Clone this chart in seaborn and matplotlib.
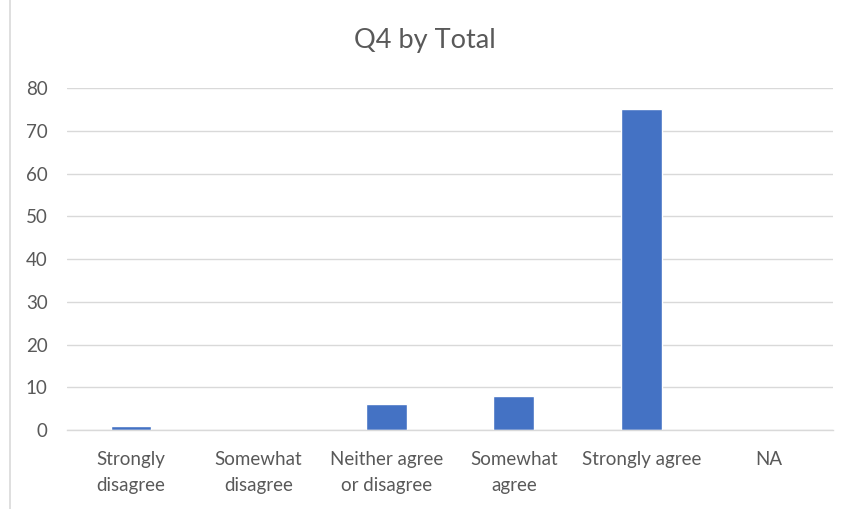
import matplotlib
matplotlib.use("Agg")
import matplotlib.pyplot as plt
import seaborn as sns
import pandas as pd
from matplotlib.patches import Rectangle

categories = ["Strongly\ndisagree", "Somewhat\ndisagree", "Neither agree\nor disagree",
              "Somewhat\nagree", "Strongly agree", "NA"]
values = [1, 0, 6, 8, 75, 0]
yticks = [0, 10, 20, 30, 40, 50, 60, 70, 80]
title = "Q4 by Total"

sns.set_theme(style="white")
plt.rcParams['font.family'] = ['Lato', 'DejaVu Sans']

df = pd.DataFrame({"cat": categories, "val": values})

fig = plt.figure(figsize=(8.5, 5.09), dpi=100)
ax = fig.add_axes([0.079, 0.155, 0.901, 0.672])
sns.barplot(data=df, x="cat", y="val", color="#4472C4", saturation=1, width=0.32, ax=ax)

ax.set_ylim(0, 80)
ax.set_yticks(yticks)
ax.set_xlim(-0.5, len(categories) - 0.5)
ax.yaxis.grid(True, color="#D9D9D9", linewidth=1)
ax.set_axisbelow(True)
for s in ["top", "right", "left"]:
    ax.spines[s].set_visible(False)
ax.spines["bottom"].set_color("#D9D9D9")
ax.spines["bottom"].set_linewidth(1)
ax.tick_params(axis="both", length=0, colors="#595959", labelsize=13.5)
ax.tick_params(axis="x", pad=15)
ax.tick_params(axis="y", pad=14)
for lbl in ax.get_xticklabels():
    lbl.set_linespacing(1.65)
ax.set_xlabel("")
ax.set_ylabel("")
fig.text(0.5, 0.92, title, ha="center", va="center", fontsize=19.5, color="#595959")

fig.patches.append(Rectangle((0.012, -0.01), 1.0, 1.02, transform=fig.transFigure,
                             fill=False, edgecolor="#D9D9D9", linewidth=1.2))

fig.savefig("out.png", dpi=100)
